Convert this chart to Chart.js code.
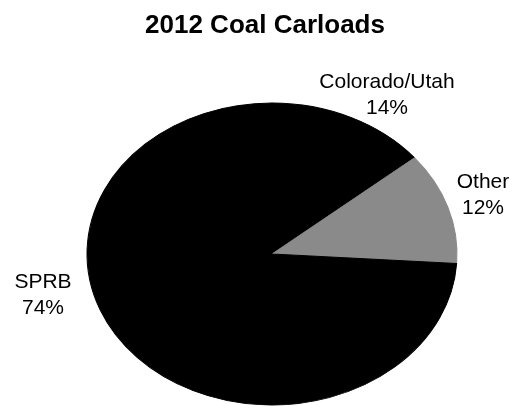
<!DOCTYPE html>
<html>
<head>
<meta charset="utf-8">
<script src="https://cdn.jsdelivr.net/npm/chart.js@4/dist/chart.umd.min.js"></script>
<style>
  html, body { margin: 0; padding: 0; background: #fff; }
  #wrap { width: 514px; height: 409px; }
</style>
</head>
<body>
<div id="wrap"><canvas id="chart" width="514" height="409"></canvas></div>
<script>
// ── Data ──────────────────────────────────────────────────
const categories = ['Colorado/Utah', 'Other', 'SPRB'];
const shares = [14, 12, 74];
const sliceColors = ['#000000', '#8a8a8a', '#000000'];

// ── Look of the tilted (oval) pie ─────────────────────────
const pieShape = { cx: 272, cy: 254, rx: 185, ry: 151 };
const labelAnchors = {
  'Colorado/Utah': [387, 95],
  'Other': [483, 195],
  'SPRB': [43, 295],
};
const labelFont = '21px "Liberation Sans", Arial, sans-serif';
const labelLineGap = 26;

/** Squash the round pie into an oval around pieShape. */
const ovalPie = {
  id: 'ovalPie',
  beforeDatasetsDraw(chart) {
    const arc = chart.getDatasetMeta(0).data[0];
    this._on = !!arc;
    if (!arc) return;
    const { x, y, outerRadius } = arc;
    const ctx = chart.ctx;
    ctx.save();
    ctx.translate(pieShape.cx, pieShape.cy);
    ctx.scale(pieShape.rx / outerRadius, pieShape.ry / outerRadius);
    ctx.translate(-x, -y);
  },
  afterDatasetsDraw(chart) {
    if (this._on) chart.ctx.restore();
  },
};

/** Category name + percent, two lines, beside each slice. */
const sliceLabels = {
  id: 'sliceLabels',
  afterDraw(chart) {
    const ctx = chart.ctx;
    ctx.save();
    ctx.font = labelFont;
    ctx.fillStyle = '#000';
    ctx.textAlign = 'center';
    ctx.textBaseline = 'middle';
    chart.data.labels.forEach((name, i) => {
      const pos = labelAnchors[name];
      if (!pos) return;
      const pct = chart.data.datasets[0].data[i] + '%';
      ctx.fillText(name, pos[0], pos[1] - labelLineGap / 2);
      ctx.fillText(pct, pos[0], pos[1] + labelLineGap / 2);
    });
    ctx.restore();
  },
};

new Chart(document.getElementById('chart'), {
  type: 'pie',
  data: {
    labels: categories,
    datasets: [{
      data: shares,
      backgroundColor: sliceColors,
      borderColor: sliceColors,
      borderWidth: 1,
    }],
  },
  options: {
    responsive: false,
    animation: false,
    events: [],
    layout: { padding: { left: 16 } },
    plugins: {
      legend: { display: false },
      tooltip: { enabled: false },
      title: {
        display: true,
        text: '2012 Coal Carloads',
        color: '#000',
        font: { family: '"Liberation Sans", Arial, sans-serif', size: 26, weight: 'bold' },
        padding: { top: 10, bottom: 10 },
      },
    },
  },
  plugins: [ovalPie, sliceLabels],
});
</script>
</body>
</html>
